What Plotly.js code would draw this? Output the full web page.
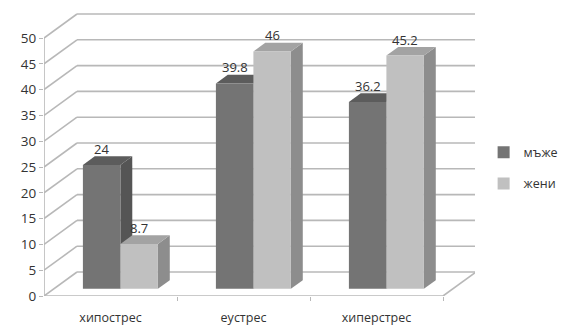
<!DOCTYPE html>
<html>
<head>
<meta charset="utf-8">
<script src="https://cdn.plot.ly/plotly-3.0.1.min.js"></script>
<style>html,body{margin:0;padding:0;background:#fff;}#chart{width:562px;height:326px;}</style>
</head>
<body>
<div id="chart"></div>
<script>
// ---- data ----
const categories = ['хипострес', 'еустрес', 'хиперстрес'];
const seriesNames = ['мъже', 'жени'];
const menValues = [24, 39.8, 36.2];
const womenValues = [8.7, 46, 45.2];
const yTickValues = [0, 5, 10, 15, 20, 25, 30, 35, 40, 45, 50];

// ---- styling / geometry (pixels -> axis units) ----
const pxPerCat = 133, pxPerUnit = 5.16;
const plotW = 431, plotH = 283;
const wallDx = 33 / pxPerCat, wallDy = 24 / pxPerUnit;   // depth of the 3D box
const barFront = 0.3, barBack = 0.66;                     // bar depth fractions
const barW = 37.5 / pxPerCat;
const xRange = [-0.5, -0.5 + plotW / pxPerCat];
const yRange = [0, plotH / pxPerUnit];
const gridColor = '#b8b8b8';
const textColor = '#333333';
const colors = {
  'мъже': {front: '#747474', top: '#5c5c5c', side: '#555555'},
  'жени': {front: '#c0c0c0', top: '#a3a3a3', side: '#8d8d8d'}
};

const sx = barFront * wallDx, sy = barFront * wallDy;
const bdx = (barBack - barFront) * wallDx, bdy = (barBack - barFront) * wallDy;
const xs = categories.map((c, i) => i);
const seriesValues = [menValues, womenValues];
const offsets = [-barW + sx, sx];

const traces = seriesNames.map((name, s) => ({
  type: 'bar',
  name: name,
  legendgroup: name,
  x: xs,
  y: seriesValues[s],
  base: xs.map(() => sy),
  offset: offsets[s],
  width: barW,
  marker: {color: colors[name].front, line: {width: 0}},
  hoverinfo: 'skip'
}));

const shapes = [];
const line = (x0, y0, x1, y1) => shapes.push({
  type: 'line', xref: 'x', yref: 'y', x0, y0, x1, y1, layer: 'below',
  line: {color: gridColor, width: 1.6}
});
// walls: back gridlines + left-side diagonals
yTickValues.forEach(v => {
  line(-0.5, v, -0.5 + wallDx, v + wallDy);
  line(-0.5 + wallDx, v + wallDy, xRange[1], v + wallDy);
});
// floor front edge, right edge and front axis line
line(-0.5, 0, 2.5, 0);
line(2.5, 0, 2.5 + wallDx, wallDy);
line(-0.5, 0, -0.5, yTickValues[yTickValues.length - 1]);

// bar top and side faces (drawn below traces so front faces occlude correctly)
const annotations = [];
xs.forEach((xc, i) => {
  seriesNames.forEach((name, s) => {
    const v = seriesValues[s][i];
    const x0 = xc + offsets[s], x1 = x0 + barW;
    const b = sy, t = sy + v;
    shapes.push({
      type: 'path', xref: 'x', yref: 'y', layer: 'below',
      path: `M${x1},${b} L${x1},${t} L${x1 + bdx},${t + bdy} L${x1 + bdx},${b + bdy} Z`,
      fillcolor: colors[name].side, line: {width: 0}
    });
    shapes.push({
      type: 'path', xref: 'x', yref: 'y', layer: 'below',
      path: `M${x0},${t} L${x0 + bdx},${t + bdy} L${x1 + bdx},${t + bdy} L${x1},${t} Z`,
      fillcolor: colors[name].top, line: {width: 0}
    });
    annotations.push({
      x: (x0 + x1) / 2, y: t, xref: 'x', yref: 'y',
      text: String(v), showarrow: false, yshift: 16,
      font: {family: 'Open Sans, sans-serif', size: 13, color: textColor}
    });
  });
});

const layout = {
  width: 562, height: 326,
  margin: {l: 44, r: 562 - 44 - plotW, t: 13, b: 326 - 13 - plotH, pad: 0, autoexpand: false},
  paper_bgcolor: '#ffffff', plot_bgcolor: '#ffffff',
  barmode: 'overlay',
  font: {family: 'Open Sans, sans-serif', size: 13, color: textColor},
  xaxis: {
    type: 'linear', range: xRange, fixedrange: true, automargin: false,
    tickmode: 'array', tickvals: xs, ticktext: categories,
    ticks: '', showgrid: false, zeroline: false, showline: false,
    ticklabelstandoff: 12,
    minor: {tickmode: 'array', tickvals: [0.5, 1.5, 2.5], ticks: 'outside', ticklen: 4, tickcolor: gridColor, tickwidth: 1, showgrid: false},
    tickfont: {size: 12.5, color: textColor}
  },
  yaxis: {
    type: 'linear', range: yRange, fixedrange: true, automargin: false,
    tickmode: 'array', tickvals: yTickValues,
    ticks: 'outside', ticklen: 4, tickcolor: gridColor,
    showgrid: false, zeroline: false, showline: false,
    tickfont: {size: 13.5, color: textColor}
  },
  shapes: shapes,
  annotations: annotations,
  showlegend: true,
  legend: {
    x: 1.02, xanchor: 'left', y: 0.56, yanchor: 'top',
    traceorder: 'grouped', tracegroupgap: 12,
    font: {size: 12.5, color: textColor}, bgcolor: 'rgba(0,0,0,0)'
  }
};

Plotly.newPlot('chart', traces, layout, {staticPlot: true, displayModeBar: false});
</script>
</body>
</html>
